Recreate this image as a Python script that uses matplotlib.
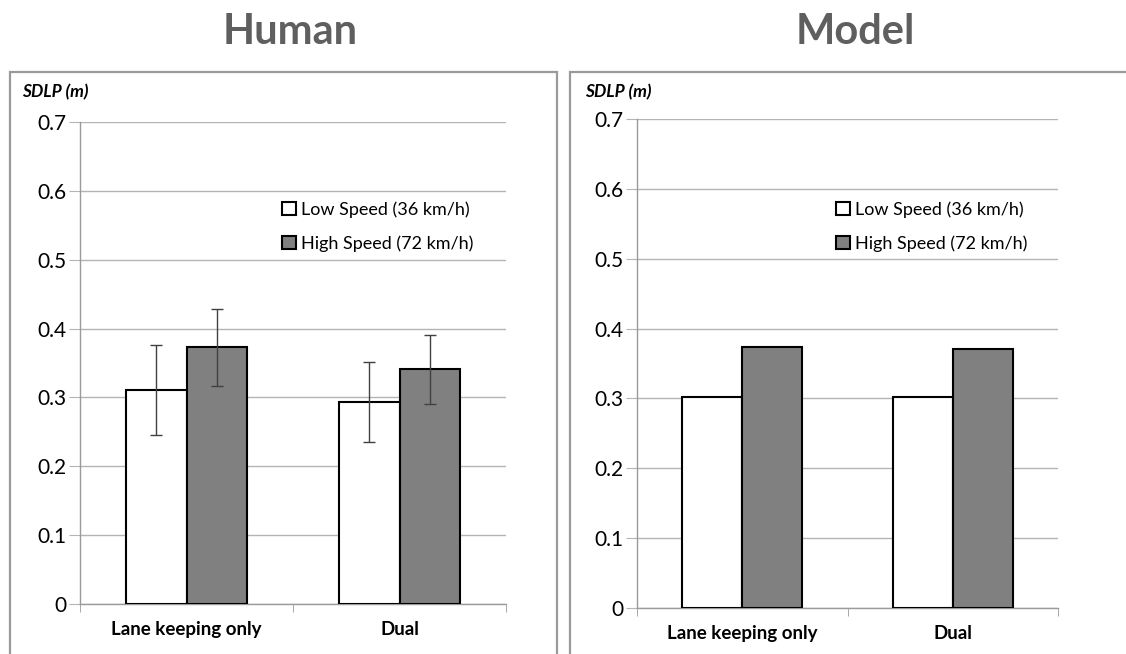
import matplotlib.pyplot as plt
from matplotlib.patches import Rectangle
import numpy as np

plt.rcParams['font.family'] = ['Lato', 'DejaVu Sans']

categories = ['Lane keeping only', 'Dual']
series = ['Low Speed (36 km/h)', 'High Speed (72 km/h)']
human_low = [0.311, 0.293]
human_high = [0.373, 0.341]
human_low_err = [0.065, 0.058]
human_high_err = [0.056, 0.050]
model_low = [0.302, 0.302]
model_high = [0.373, 0.371]
yticks = [0, 0.1, 0.2, 0.3, 0.4, 0.5, 0.6, 0.7]
ytick_labels = ['0', '0.1', '0.2', '0.3', '0.4', '0.5', '0.6', '0.7']

fig = plt.figure(figsize=(11.26, 6.54), dpi=100)

# grey panel frames
W, H = 1126, 654
for x0, x1 in [(10, 557), (570, 1130)]:
    fig.patches.append(Rectangle((x0 / W, -0.1), (x1 - x0) / W, (H - 72) / H + 0.1,
                                 transform=fig.transFigure, fill=False,
                                 edgecolor='#9a9a9a', lw=1.6, clip_on=False))

fig.text(290 / W, 1 - 32 / H, 'Human', ha='center', va='center', fontsize=30,
         fontweight='bold', color='#5f5f5f')
fig.text(855 / W, 1 - 32 / H, 'Model', ha='center', va='center', fontsize=30,
         fontweight='bold', color='#5f5f5f')


def panel(rect, low, high, low_err=None, high_err=None, lab_x=22, leg_x=282):
    ax = fig.add_axes(rect)
    x = np.arange(len(categories))
    w = 0.284
    ekw = dict(ecolor='#404040', elinewidth=1.0, capsize=4, capthick=1.0)
    ax.bar(x - w / 2, low, w, color='white', edgecolor='black', lw=1.5,
           label=series[0], yerr=low_err, error_kw=ekw, zorder=3)
    ax.bar(x + w / 2, high, w, color='#808080', edgecolor='black', lw=1.5,
           label=series[1], yerr=high_err, error_kw=ekw, zorder=3)
    ax.set_xlim(-0.5, 1.5)
    ax.set_ylim(0, 0.7)
    ax.set_yticks(yticks)
    ax.set_yticklabels(ytick_labels, fontsize=15)
    ax.yaxis.grid(True, color='#b4b4b4', lw=1.0, zorder=0)
    ax.set_axisbelow(True)
    ax.set_xticks(x)
    ax.set_xticklabels(categories, fontsize=13.5, fontweight='bold')
    ax.set_xticks([-0.5, 0.5, 1.5], minor=True)
    ax.tick_params(axis='x', which='major', length=0, pad=12)
    ax.tick_params(axis='x', which='minor', length=6, color='#9a9a9a', direction='out')
    ax.tick_params(axis='y', length=8, color='#b4b4b4', pad=2)
    for s in ['top', 'right']:
        ax.spines[s].set_visible(False)
    for s in ['left', 'bottom']:
        ax.spines[s].set_color('#9a9a9a')
        ax.spines[s].set_linewidth(1.0)
    fig.text(lab_x / W, 1 - 92 / H, 'SDLP (m)', ha='left', va='center', fontsize=12.5,
             fontweight='bold', fontstyle='italic')
    ax_top = H - (rect[1] + rect[3]) * H
    ax.legend(loc='upper left', bbox_to_anchor=((leg_x - rect[0] * W) / (rect[2] * W),
                                                 1 - (201 - ax_top) / (rect[3] * H)),
              frameon=False, fontsize=13, handlelength=0.75, handleheight=0.75,
              handletextpad=0.3, labelspacing=1.0, borderpad=0, borderaxespad=0)
    return ax


panel([80 / W, 50 / H, 426 / W, 482 / H], human_low, human_high,
      human_low_err, human_high_err, lab_x=22, leg_x=282)
panel([637 / W, 46 / H, 421 / W, 489 / H], model_low, model_high,
      lab_x=585, leg_x=836)

fig.savefig('out.png', dpi=100)
